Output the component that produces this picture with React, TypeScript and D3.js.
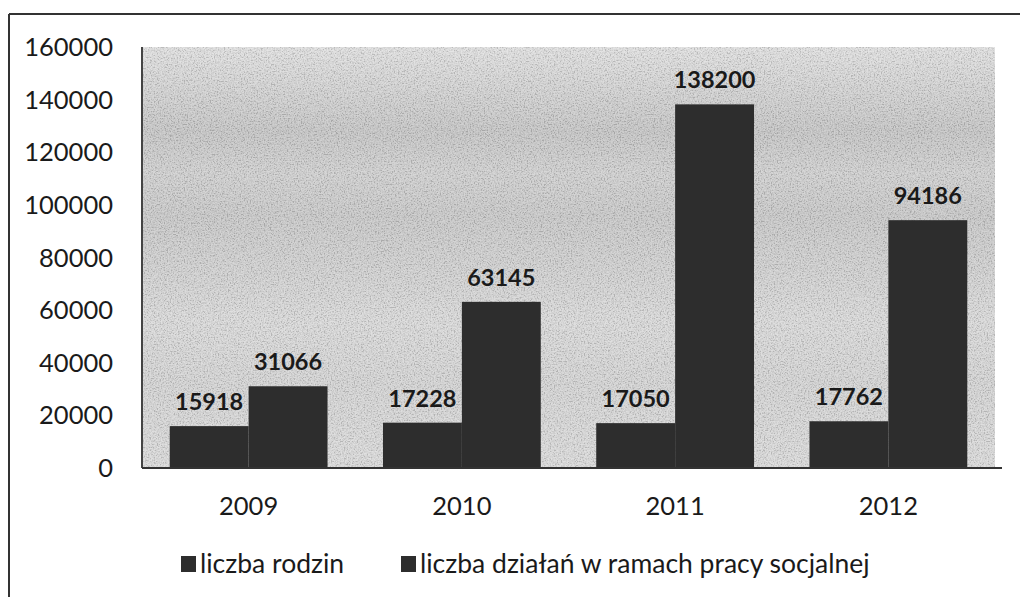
import React from 'react';
import * as d3 from 'd3';

const years = ['2009', '2010', '2011', '2012'];
const rodziny = [15918, 17228, 17050, 17762];
const dzialania = [31066, 63145, 138200, 94186];
const seriesNames = ['liczba rodzin', 'liczba działań w ramach pracy socjalnej'];
const yTicks = [0, 20000, 40000, 60000, 80000, 100000, 120000, 140000, 160000];

const W = 1020;
const H = 597;
const plot = { left: 142, right: 1000, top: 47, bottom: 468 };
const font = 'Lato, "Open Sans", sans-serif';
const barColor = '#2d2d2d';
const textColor = '#1a1a1a';

const App = () => {
  const x = d3
    .scaleBand()
    .domain(years)
    .range([plot.left, plot.right - 5])
    .paddingInner(0.26)
    .paddingOuter(0.13);

  const x1 = d3.scaleBand().domain(['0', '1']).range([0, x.bandwidth()]);
  const y = d3.scaleLinear().domain([0, 160000]).range([plot.bottom, plot.top]);

  const rows = years.map((yr, i) => ({ yr, vals: [rodziny[i], dzialania[i]] }));
  const pw = plot.right - plot.left - 5;
  const ph = plot.bottom - plot.top;

  return (
    <svg width={W} height={H} style={{ display: 'block', position: 'absolute', left: 0, top: 0 }}>
      <defs>
        <linearGradient id="bg" x1="0" y1={plot.top} x2="0" y2={plot.bottom} gradientUnits="userSpaceOnUse">
          <stop offset="0" stopColor="#e2e2e2" />
          <stop offset="0.1" stopColor="#d4d4d4" />
          <stop offset="0.2" stopColor="#c6c6c6" />
          <stop offset="0.3" stopColor="#d1d1d1" />
          <stop offset="0.4" stopColor="#c9c9c9" />
          <stop offset="0.55" stopColor="#d3d3d3" />
          <stop offset="0.65" stopColor="#dbdbdb" />
          <stop offset="0.8" stopColor="#d5d5d5" />
          <stop offset="1" stopColor="#dcdcdc" />
        </linearGradient>
        <filter id="noise" x={plot.left} y={plot.top} width={pw} height={ph} filterUnits="userSpaceOnUse">
          <feTurbulence type="fractalNoise" baseFrequency="0.7" numOctaves="3" seed="5" result="t" />
          <feColorMatrix
            in="t"
            type="matrix"
            values="1 0 0 0 0  1 0 0 0 0  1 0 0 0 0  0 0 0 0 1"
            result="g"
          />
          <feComponentTransfer in="g">
            <feFuncR type="linear" slope="2.5" intercept="-0.75" />
            <feFuncG type="linear" slope="2.5" intercept="-0.75" />
            <feFuncB type="linear" slope="2.5" intercept="-0.75" />
          </feComponentTransfer>
        </filter>
      </defs>

      <rect x={0} y={0} width={W} height={H} fill="#fff" />

      {/* frame */}
      <line x1={9} y1={14} x2={W} y2={14} stroke="#333" strokeWidth={2} />
      <line x1={9} y1={14} x2={9} y2={H} stroke="#333" strokeWidth={2} />

      {/* plot area */}
      <rect x={plot.left} y={plot.top} width={pw} height={ph} fill="url(#bg)" />
      <rect x={plot.left} y={plot.top} width={pw} height={ph} fill="#888" filter="url(#noise)" opacity={0.16} />

      {/* bars */}
      {rows.map((r) => (
        <g key={r.yr} transform={`translate(${x(r.yr)},0)`}>
          {r.vals.map((v, j) => (
            <rect
              key={j}
              x={x1(String(j))}
              y={y(v)}
              width={x1.bandwidth()}
              height={y(0) - y(v)}
              fill={barColor}
            />
          ))}
        </g>
      ))}

      {/* data labels */}
      {rows.map((r) =>
        r.vals.map((v, j) => (
          <text
            key={r.yr + j}
            x={(x(r.yr) as number) + (x1(String(j)) as number) + x1.bandwidth() / 2}
            y={y(v) - 16}
            textAnchor="middle"
            fontFamily={font}
            fontWeight="bold"
            fontSize={23.5}
            fill={textColor}
          >
            {v}
          </text>
        ))
      )}

      {/* axes lines */}
      <line x1={plot.left} y1={plot.top} x2={plot.left} y2={plot.bottom} stroke="#444" strokeWidth={2} />
      <line x1={plot.left} y1={plot.bottom} x2={plot.right + 2} y2={plot.bottom} stroke="#333" strokeWidth={2} />

      {/* y tick labels */}
      {yTicks.map((t) => (
        <text
          key={t}
          x={113}
          y={y(t) + 9}
          textAnchor="end"
          fontFamily={font}
          fontSize={25.5}
          fill={textColor}
        >
          {t}
        </text>
      ))}

      {/* x labels */}
      {years.map((yr) => (
        <text
          key={yr}
          x={(x(yr) as number) + x.bandwidth() / 2}
          y={515}
          textAnchor="middle"
          fontFamily={font}
          fontSize={25.5}
          fill={textColor}
        >
          {yr}
        </text>
      ))}

      {/* legend */}
      {seriesNames.map((name, i) => {
        const lx = i === 0 ? 181 : 401;
        return (
          <g key={name}>
            <rect x={lx} y={556} width={15} height={16} fill={barColor} />
            <text x={lx + 19} y={573} fontFamily={font} fontSize={26.5} fill={textColor}>
              {name}
            </text>
          </g>
        );
      })}
    </svg>
  );
};

export default App;
